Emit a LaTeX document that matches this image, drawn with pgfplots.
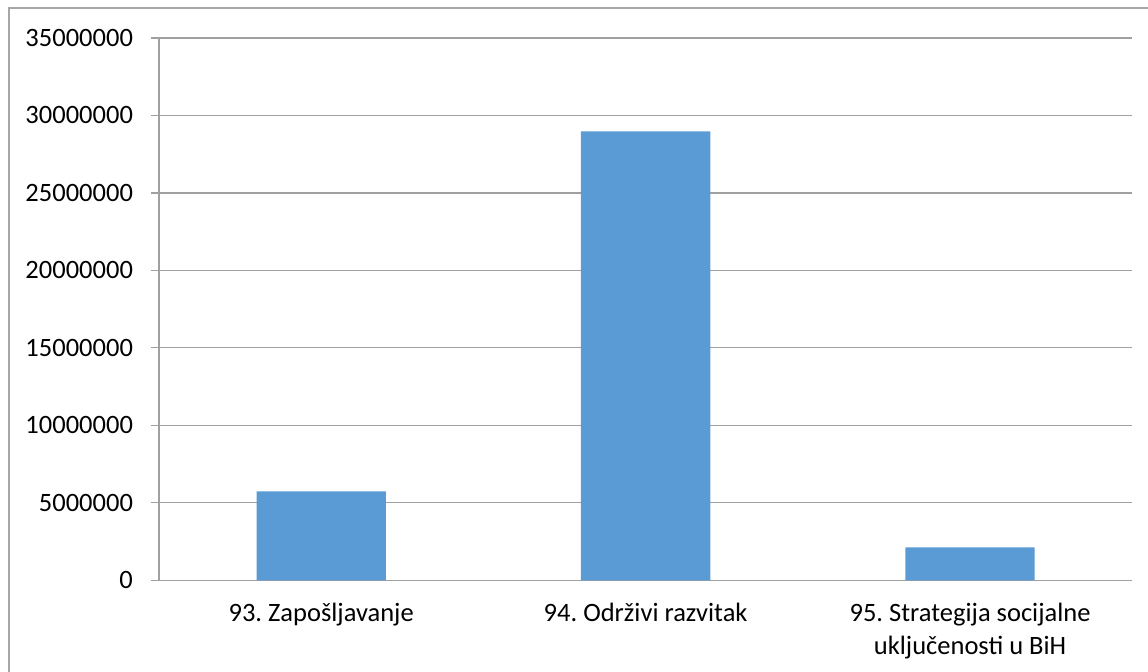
\documentclass[border=0pt]{standalone}
\usepackage{pgfplots}
\pgfplotsset{compat=1.18}
\usepackage{fontspec}
\setmainfont{Carlito}
\frenchspacing
\definecolor{barblue}{HTML}{5B9BD5}
\definecolor{gridgray}{HTML}{A0A0A0}
\definecolor{framegray}{HTML}{A6A6A6}
\begin{document}
\begin{tikzpicture}
\path[use as bounding box] (0,0) rectangle (574pt,335.5pt);
\draw[framegray, line width=0.6pt] (4.5pt,-1pt) -- (4.5pt,331.5pt) -- (576pt,331.5pt);
\begin{axis}[
  at={(79.5pt,45.35pt)}, anchor=south west,
  scale only axis, width=486.65pt, height=271.15pt,
  xmin=-0.5, xmax=2.5, ymin=0, ymax=35000000,
  axis x line*=bottom, axis y line*=left,
  axis line style={gridgray, line width=0.6pt},
  ytick={0,5000000,10000000,15000000,20000000,25000000,30000000,35000000},
  scaled y ticks=false,
  yticklabel style={/pgf/number format/fixed, /pgf/number format/set thousands separator={}, /pgf/number format/assume math mode=true, xshift=-5.5pt},
  ymajorgrids, grid style={gridgray, line width=0.6pt},
  tick align=outside, major tick length=4pt,
  tick style={gridgray, line width=0.6pt},
  xtick={0,1,2},
  xticklabels={93. Zapošljavanje, 94. Održivi razvitak, {95. Strategija socijalne\\uključenosti u BiH}},
  xtick style={draw=none},
  xticklabel style={align=center, yshift=-4pt},
  extra x ticks={-0.5,0.5,1.5,2.5}, extra x tick labels={},
  extra x tick style={grid=none, tick style={gridgray, line width=0.6pt, draw=gridgray}, major tick length=4pt},
  ticklabel style={font=\fontsize{13.25}{16.5}\selectfont, text=black},
]
\addplot[ybar, bar width=64.65pt, fill=barblue, draw=none] coordinates {(0,5744000) (1,28980000) (2,2130000)};
\end{axis}
\end{tikzpicture}
\end{document}
